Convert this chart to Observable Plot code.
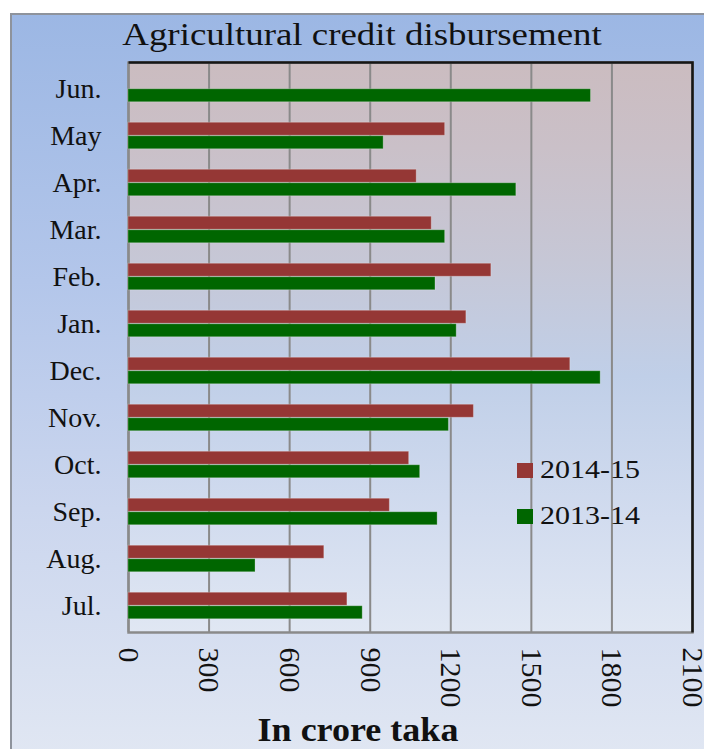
<!DOCTYPE html>
<html>
<head>
<meta charset="utf-8">
<script src="https://cdn.jsdelivr.net/npm/d3@7"></script>
<script src="https://cdn.jsdelivr.net/npm/@observablehq/plot@0.6"></script>
<style>
  html, body { margin: 0; padding: 0; background: #ffffff; }
  #page { position: relative; width: 704px; height: 749px; overflow: hidden; background: #ffffff;
          font-family: "Liberation Serif", "Times New Roman", serif; }
  #panel { position: absolute; left: 10px; top: 13px; width: 720px; height: 760px;
           border-left: 2px solid #8e939c; border-top: 2px solid #8e939c;
           background: linear-gradient(180deg, #9cb7e4 0%, #b3c6ea 35%, #cbd6ee 65%, #e2e8f3 100%); }
  #chart { position: absolute; left: 0; top: 0; }
  #title { position: absolute; left: 0; width: 724px; top: 17px; text-align: center;
           font-size: 31px; line-height: 36px; color: #111; transform: scaleX(1.19); transform-origin: 362px 0; }
  #xlabel { position: absolute; left: 0; width: 716px; top: 710px; text-align: center;
            font-size: 34px; line-height: 40px; font-weight: bold; color: #111; transform: scaleX(1.06); transform-origin: 358px 0; }
  .legend-row { position: absolute; left: 517px; height: 30px; display: flex; align-items: center; }
  .legend-row .sw { width: 16px; height: 15px; display: inline-block; }
  .legend-row .lb { font-size: 25px; margin-left: 7px; color: #111; display: inline-block; transform: scaleX(1.2); transform-origin: 0 50%; }
  #chart g[aria-label^="x-axis"] text { font-size: 30px; }
  #chart g[aria-label^="y-axis"] text { font-size: 28px; }
</style>
</head>
<body>
<div id="page">
  <div id="panel"></div>
  <div id="chart"></div>
  <div id="title">Agricultural credit disbursement</div>
  <div id="xlabel">In crore taka</div>
  <div id="legend"></div>
</div>
<script>
// ---- Data ----
const months = ["Jul.", "Aug.", "Sep.", "Oct.", "Nov.", "Dec.", "Jan.", "Feb.", "Mar.", "Apr.", "May", "Jun."];
const values2014_15 = [815, 729, 973, 1045, 1286, 1645, 1258, 1351, 1129, 1073, 1179, null];
const values2013_14 = [872, 473, 1151, 1086, 1193, 1758, 1222, 1143, 1179, 1444, 950, 1722];
const seriesNames = ["2014-15", "2013-14"];
const seriesColors = ["#953735", "#006600"];
const xTicks = [0, 300, 600, 900, 1200, 1500, 1800, 2100];

// ---- Layout ----
const W = 704, H = 749;
const mTop = 62, mLeft = 128, mRight = 12, mBottom = 117;
const plotW = W - mLeft - mRight, plotH = H - mTop - mBottom;
const band = plotH / months.length;
const barH = 13.5;

const rows1 = months.map((m, i) => ({month: m, value: values2014_15[i]})).filter(d => d.value != null);
const rows2 = months.map((m, i) => ({month: m, value: values2013_14[i]})).filter(d => d.value != null);

const svg = Plot.plot({
  width: W,
  height: H,
  marginTop: mTop,
  marginLeft: mLeft,
  marginRight: mRight,
  marginBottom: mBottom,
  style: {background: "transparent", fontFamily: "'Liberation Serif', 'Times New Roman', serif", fontSize: "28px", color: "#111"},
  x: {domain: [xTicks[0], xTicks[xTicks.length - 1]], ticks: xTicks, tickFormat: d3.format("d"),
      tickRotate: 90, tickSize: 0, tickPadding: 15, label: null},
  y: {domain: months.slice().reverse(), padding: 0, tickSize: 0, tickPadding: 27, label: null},
  marks: [
    Plot.frame({fill: "url(#plotBg)", stroke: "none"}),
    Plot.ruleX(xTicks, {stroke: "#8a8a8a", strokeWidth: 2}),
    Plot.frame({stroke: "#8a8a8a", strokeWidth: 2.5}),
    Plot.frame({stroke: "#161616", strokeWidth: 2.5, strokeDasharray: `${plotW + plotH},${plotW + plotH}`}),
    Plot.barX(rows1, {x: "value", y: "month", fill: seriesColors[0],
      insetTop: band / 2 - barH, insetBottom: band / 2, stroke: "#ffffff", strokeOpacity: 0.25, strokeWidth: 1}),
    Plot.barX(rows2, {x: "value", y: "month", fill: seriesColors[1],
      insetTop: band / 2, insetBottom: band / 2 - barH, stroke: "#ffffff", strokeOpacity: 0.25, strokeWidth: 1})
  ]
});

// gradient for the plotting area
const defs = d3.select(svg).insert("defs", ":first-child");
const grad = defs.append("linearGradient").attr("id", "plotBg")
  .attr("x1", 0).attr("y1", 0).attr("x2", 0).attr("y2", 1);
[["0%", "#cbbcc0"], ["15%", "#cac0c8"], ["35%", "#c6c7d6"], ["55%", "#c0cfe8"], ["80%", "#d2dcef"], ["100%", "#e0e7f3"]]
  .forEach(([o, c]) => grad.append("stop").attr("offset", o).attr("stop-color", c));

document.getElementById("chart").appendChild(svg);

// legend
const legend = document.getElementById("legend");
const legendTops = [455, 501];
seriesNames.forEach((name, i) => {
  const row = document.createElement("div");
  row.className = "legend-row";
  row.style.top = legendTops[i] + "px";
  row.innerHTML = `<span class="sw" style="background:${seriesColors[i]}"></span><span class="lb">${name}</span>`;
  legend.appendChild(row);
});
</script>
</body>
</html>
